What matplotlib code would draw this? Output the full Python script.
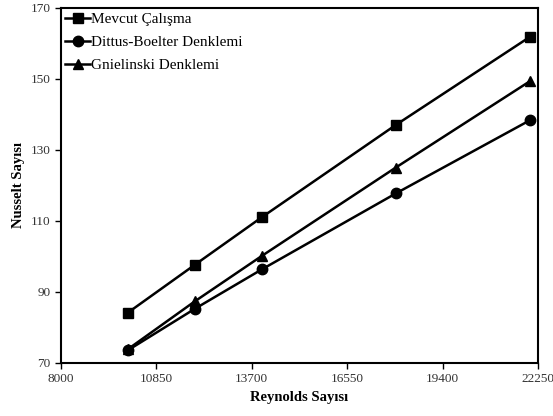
import matplotlib.pyplot as plt

plt.rcParams['font.family'] = ['Liberation Serif', 'DejaVu Serif']

reynolds = [10000, 12000, 14000, 18000, 22000]
nu_mevcut = [84.1, 97.6, 111.0, 137.0, 161.8]
nu_dittus = [73.5, 85.2, 96.3, 117.7, 138.3]
nu_gnielinski = [73.8, 87.3, 100.1, 125.0, 149.3]

x_ticks = [8000, 10850, 13700, 16550, 19400, 22250]
y_ticks = [70, 90, 110, 130, 150, 170]

fig = plt.figure(figsize=(5.53, 4.16), dpi=100)
ax = fig.add_axes([0.110, 0.128, 0.863, 0.853])

ax.plot(reynolds, nu_mevcut, color='black', marker='s', markersize=7.5, linewidth=1.8, label='Mevcut Çalışma')
ax.plot(reynolds, nu_dittus, color='black', marker='o', markersize=7.5, linewidth=1.8, label='Dittus-Boelter Denklemi')
ax.plot(reynolds, nu_gnielinski, color='black', marker='^', markersize=7.5, linewidth=1.8, label='Gnielinski Denklemi')

ax.set_xlim(8000, 22250)
ax.set_ylim(70, 170)
ax.set_xticks(x_ticks)
ax.set_yticks(y_ticks)
ax.tick_params(direction='out', length=4, width=1, labelsize=9.5, labelcolor='#333333')
for sp in ax.spines.values():
    sp.set_linewidth(1.5)

ax.set_xlabel('Reynolds Sayısı', fontsize=10.5, fontweight='bold')
ax.set_ylabel('Nusselt Sayısı', fontsize=10.5, fontweight='bold')

ax.legend(loc='upper left', frameon=False, fontsize=11, handlelength=1.6,
          handletextpad=0.05, borderaxespad=0.0, borderpad=0.3, labelspacing=0.6)

fig.savefig('out.png', dpi=100)
